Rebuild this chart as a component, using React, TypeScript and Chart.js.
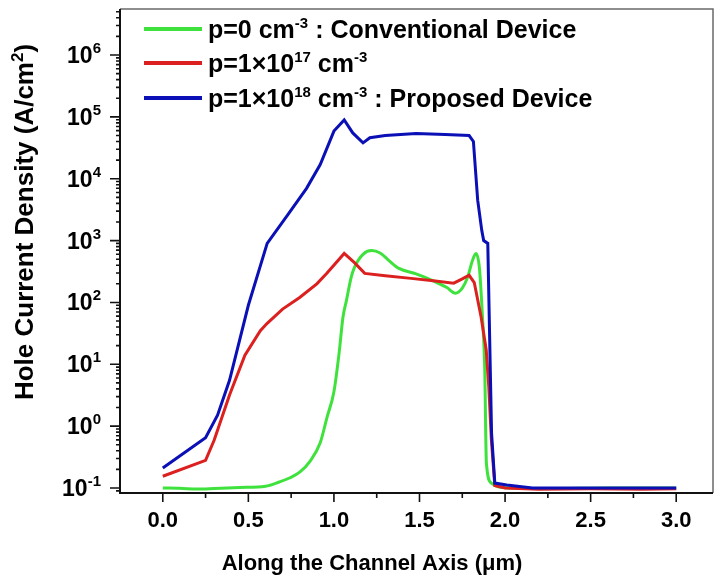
import React, { useEffect, useRef } from 'react';
import { Chart, registerables } from 'chart.js';

Chart.register(...registerables);

// ---------- data ----------
const greenX = [0, 0.1, 0.2, 0.3, 0.45, 0.6, 0.68, 0.74, 0.8, 0.86, 0.92, 0.96, 1.0, 1.03, 1.053, 1.073, 1.1, 1.12, 1.17, 1.22, 1.27, 1.32, 1.38, 1.48, 1.58, 1.66, 1.71, 1.75, 1.78, 1.81, 1.83, 1.85, 1.868, 1.881, 1.891, 1.92, 1.96, 2.05, 2.3, 2.6, 3.0];
const greenY = [0.1, 0.099, 0.096, 0.098, 0.102, 0.107, 0.125, 0.145, 0.18, 0.27, 0.54, 1.4, 3.6, 15, 58, 107, 250, 370, 600, 690, 630, 480, 355, 290, 224, 174, 141, 170, 250, 480, 617, 363, 58, 9, 0.25, 0.12, 0.105, 0.1, 0.098, 0.1, 0.1];

const redX = [0, 0.25, 0.3, 0.39, 0.48, 0.57, 0.61, 0.7, 0.8, 0.9, 0.96, 1.06, 1.12, 1.18, 1.3, 1.45, 1.58, 1.7, 1.75, 1.79, 1.82, 1.86, 1.89, 1.905, 1.92, 1.94, 2.0, 2.2, 2.5, 2.8, 3.0];
const redY = [0.155, 0.28, 0.59, 3.2, 14, 35, 46, 78, 120, 200, 300, 620, 440, 295, 270, 245, 224, 205, 240, 275, 210, 58, 17, 4.3, 0.6, 0.11, 0.1, 0.095, 0.097, 0.095, 0.097];

const blueX = [0, 0.25, 0.32, 0.39, 0.5, 0.61, 0.73, 0.84, 0.92, 1.0, 1.06, 1.11, 1.17, 1.21, 1.3, 1.48, 1.65, 1.79, 1.815, 1.84, 1.864, 1.875, 1.899, 1.921, 1.94, 2.01, 2.16, 2.5, 3.0];
const blueY = [0.21, 0.65, 1.5, 5.5, 90, 900, 2600, 7000, 17000, 59000, 89000, 55000, 38000, 46000, 50000, 54000, 52000, 50000, 40000, 4500, 1450, 1000, 900, 0.78, 0.12, 0.112, 0.1, 0.1, 0.1];

const xTickValues = [0, 0.5, 1.0, 1.5, 2.0, 2.5, 3.0];
const xTickLabels = ['0.0', '0.5', '1.0', '1.5', '2.0', '2.5', '3.0'];
const yDecades = [-1, 0, 1, 2, 3, 4, 5, 6];

const legendGreen: [string, boolean][] = [['p=0 cm', false], ['-3', true], [' : Conventional Device', false]];
const legendRed: [string, boolean][] = [['p=1×10', false], ['17', true], [' cm', false], ['-3', true]];
const legendBlue: [string, boolean][] = [['p=1×10', false], ['18', true], [' cm', false], ['-3', true], [' : Proposed Device', false]];

const xTitle = 'Along the Channel Axis (μm)';
const yTitleParts: [string, boolean][] = [['Hole Current Density (A/cm', false], ['2', true], [')', false]];

const GREEN = '#3fe23c';
const RED = '#dc2020';
const BLUE = '#0a10b6';

const FONT = "'Liberation Sans', Arial, sans-serif";

const toPts = (xs: number[], ys: number[]) => xs.map((x, i) => ({ x, y: ys[i] }));

function richWidth(ctx: CanvasRenderingContext2D, parts: [string, boolean][], size: number, supSize: number) {
  let w = 0;
  for (const [t, sup] of parts) {
    ctx.font = `bold ${sup ? supSize : size}px ${FONT}`;
    w += ctx.measureText(t).width;
  }
  return w;
}

function drawRich(ctx: CanvasRenderingContext2D, parts: [string, boolean][], x: number, baseline: number, size: number, supSize: number, rise: number) {
  let cx = x;
  ctx.textAlign = 'left';
  ctx.textBaseline = 'alphabetic';
  for (const [t, sup] of parts) {
    ctx.font = `bold ${sup ? supSize : size}px ${FONT}`;
    ctx.fillText(t, cx, sup ? baseline - rise : baseline);
    cx += ctx.measureText(t).width;
  }
}

const decor = {
  id: 'decor',
  afterDraw(chart: any) {
    const { ctx, chartArea: a, scales } = chart;
    const xs = scales.x;
    const ys = scales.y;
    ctx.save();

    // frame
    ctx.strokeStyle = '#6a6a6a';
    ctx.lineWidth = 1.5;
    ctx.beginPath();
    ctx.moveTo(a.left, a.top);
    ctx.lineTo(a.right, a.top);
    ctx.lineTo(a.right, a.bottom);
    ctx.stroke();
    ctx.strokeStyle = '#111';
    ctx.lineWidth = 2;
    ctx.beginPath();
    ctx.moveTo(a.left, a.top);
    ctx.lineTo(a.left, a.bottom);
    ctx.lineTo(a.right, a.bottom);
    ctx.stroke();

    // x ticks
    ctx.lineWidth = 1.6;
    ctx.beginPath();
    for (const v of xTickValues) {
      const p = xs.getPixelForValue(v);
      ctx.moveTo(p, a.bottom);
      ctx.lineTo(p, a.bottom + 9);
      const m = v + 0.25;
      if (m < xs.max) {
        const pm = xs.getPixelForValue(m);
        ctx.moveTo(pm, a.bottom);
        ctx.lineTo(pm, a.bottom + 5);
      }
    }
    // y ticks
    for (let d = -2; d <= 6; d++) {
      for (let k = 1; k <= 9; k++) {
        const v = k * Math.pow(10, d);
        if (v < ys.min || v > ys.max) continue;
        const p = ys.getPixelForValue(v);
        ctx.moveTo(a.left - (k === 1 ? 10 : 4), p);
        ctx.lineTo(a.left, p);
      }
    }
    ctx.stroke();

    ctx.fillStyle = '#000';
    // y tick labels
    for (const d of yDecades) {
      const p = ys.getPixelForValue(Math.pow(10, d));
      const parts: [string, boolean][] = [['10', false], [String(d), true]];
      const w = richWidth(ctx, parts, 23, 15);
      drawRich(ctx, parts, a.left - 19 - w, p + 8, 23, 15, 10);
    }

    // x title
    ctx.font = `bold 22px ${FONT}`;
    ctx.textAlign = 'center';
    ctx.textBaseline = 'alphabetic';
    ctx.fillText(xTitle, 372, 570);

    // y title
    ctx.save();
    const tw = richWidth(ctx, yTitleParts, 26, 17);
    ctx.translate(33, 222);
    ctx.rotate(-Math.PI / 2);
    drawRich(ctx, yTitleParts, -tw / 2, 0, 26, 17, 10);
    ctx.restore();

    // legend
    const rows: [[string, boolean][], string, number][] = [
      [legendGreen, GREEN, 29],
      [legendRed, RED, 63],
      [legendBlue, BLUE, 98],
    ];
    for (const [parts, col, y] of rows) {
      ctx.strokeStyle = col;
      ctx.lineWidth = 4;
      ctx.beginPath();
      ctx.moveTo(144, y);
      ctx.lineTo(202, y);
      ctx.stroke();
      ctx.fillStyle = '#000';
      drawRich(ctx, parts, 208, y + 9, 25, 15, 10);
    }
    ctx.restore();
  },
};

export default function App() {
  const ref = useRef<HTMLCanvasElement>(null);
  useEffect(() => {
    const chart = new Chart(ref.current!, {
      type: 'line',
      data: {
        datasets: [
          { label: 'p=1e18', data: toPts(blueX, blueY), borderColor: BLUE, borderWidth: 3, pointRadius: 0, tension: 0, order: 1 },
          { label: 'p=1e17', data: toPts(redX, redY), borderColor: RED, borderWidth: 3, pointRadius: 0, tension: 0, order: 2 },
          { label: 'p=0', data: toPts(greenX, greenY), borderColor: GREEN, borderWidth: 3, pointRadius: 0, cubicInterpolationMode: 'monotone', order: 3 },
        ],
      },
      options: {
        animation: false,
        responsive: false,
        layout: { padding: { left: 0, right: 1, top: 9, bottom: 0 } },
        plugins: { legend: { display: false }, tooltip: { enabled: false } },
        scales: {
          x: {
            type: 'linear',
            min: -0.25,
            max: 3.215,
            grid: { display: false, drawTicks: false },
            border: { display: false },
            afterBuildTicks: (s: any) => { s.ticks = xTickValues.map((v) => ({ value: v })); },
            afterFit: (s: any) => { s.height = 87; },
            ticks: {
              autoSkip: false,
              maxRotation: 0,
              padding: 15,
              color: '#000',
              font: { family: FONT, size: 22, weight: 'bold' },
              callback: (_v: any, i: number) => xTickLabels[i],
            },
          },
          y: {
            type: 'logarithmic',
            min: 0.083,
            max: 5.55e6,
            grid: { display: false, drawTicks: false },
            border: { display: false },
            ticks: { display: false },
            afterFit: (s: any) => { s.width = 120; },
          },
        },
      } as any,
      plugins: [decor],
    });
    return () => chart.destroy();
  }, []);
  return (
    <div style={{ position: 'fixed', left: 0, top: 0, width: 714, height: 580, background: '#fff' }}>
      <canvas ref={ref} width={714} height={580} style={{ display: 'block' }} />
    </div>
  );
}
